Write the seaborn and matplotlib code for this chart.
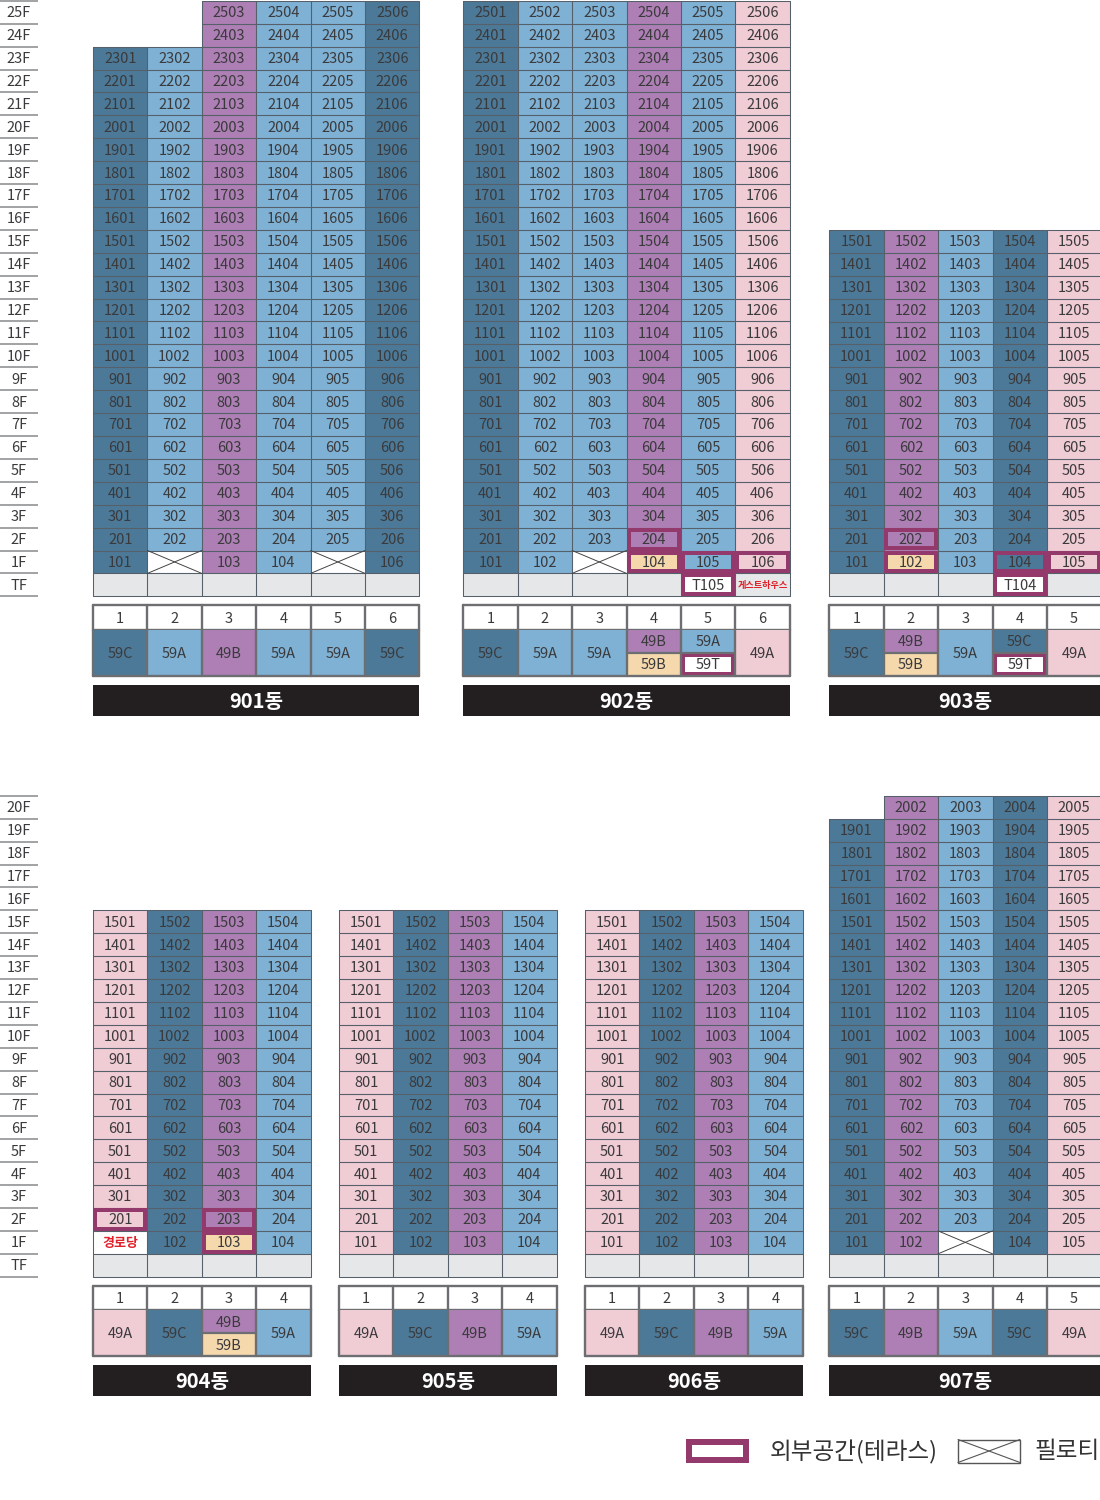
import numpy as np
import matplotlib
matplotlib.use("Agg")
import matplotlib.pyplot as plt
from matplotlib.colors import ListedColormap
from matplotlib.patches import Rectangle
import seaborn as sns

sns.set_theme(style="white")
plt.rcParams['font.family'] = ['Liberation Sans Narrow', 'Noto Sans CJK KR', 'DejaVu Sans']

W, H = 1100, 1500
ROW_H = 22.9
COL_W = 54.4

# unit types by line, floors of the top of each line
TYPE_NAMES = ["59C", "59A", "49B", "49A", "59B", "59T", "TF", "PIL"]
TYPE_COLORS = ["#4c7997", "#7fb1d4", "#ad7fb4", "#f0ccd5", "#f5d9ad", "#ffffff", "#e6e7e8", "#ffffff"]
TERRACE = "#93396b"
GRID = "#55606a"
BORDER = "#6d6e71"
TEXT = "#3a3a3c"
RED = "#e0202a"

lines_901 = ["59C", "59A", "49B", "59A", "59A", "59C"]
tops_901 = [23, 23, 25, 25, 25, 25]
lines_902 = ["59C", "59A", "59A", "49B", "59A", "49A"]
tops_902 = [25, 25, 25, 25, 25, 25]
lines_903 = ["59C", "49B", "59A", "59C", "49A"]
tops_903 = [15, 15, 15, 15, 15]
lines_904 = ["49A", "59C", "49B", "59A"]
tops_904 = [15, 15, 15, 15]
lines_905 = ["49A", "59C", "49B", "59A"]
tops_905 = [15, 15, 15, 15]
lines_906 = ["49A", "59C", "49B", "59A"]
tops_906 = [15, 15, 15, 15]
lines_907 = ["59C", "49B", "59A", "59C", "49A"]
tops_907 = [19, 20, 20, 20, 20]

piloti_901 = ["102", "105"]
piloti_902 = ["103"]
piloti_907 = ["103"]
yellow_902 = ["104"]
yellow_903 = ["102"]
yellow_904 = ["103"]
terrace_902 = ["204", "104", "105", "106", "T105"]
terrace_903 = ["202", "102", "104", "105", "T104"]
terrace_904 = ["201", "203", "103"]
tf_units_902 = {4: "T105"}
tf_units_903 = {3: "T104"}
red_902 = {"TF5": "게스트하우스"}
red_904 = {"1F0": "경로당"}
lower_902 = {3: "59B", 4: "59T"}
lower_903 = {1: "59B", 3: "59T"}
lower_904 = {2: "59B"}


def px_axes(fig, x, y, w, h):
    return fig.add_axes([x / W, 1 - (y + h) / H, w / W, h / H])


def nudge_texts(ax, dy):
    # the labels sit a touch low in the cells
    for t in ax.texts:
        t.set_y(t.get_position()[1] + dy)


def heat(ax, matrix, annot=None, lw=1.0, linecolor=GRID, kws=None):
    cmap = ListedColormap(TYPE_COLORS)
    sns.heatmap(matrix, ax=ax, cmap=cmap, vmin=-0.5, vmax=len(TYPE_NAMES) - 0.5, cbar=False,
                annot=annot if annot is not None else False, fmt="",
                annot_kws=kws if kws else {"size": 10.5, "color": TEXT},
                linewidths=lw, linecolor=linecolor, xticklabels=False, yticklabels=False)
    ax.collections[0].set_clip_on(False)
    ax.set_xlabel("")
    ax.set_ylabel("")
    ax.axis("off")
    nudge_texts(ax, 0.04)


def terrace_box(ax, col, row, cw, rh, h_rows=1.0, border=4.0):
    # inset frame so the outer edge stays on the cell edge
    ax.add_patch(Rectangle((col + border / 2 / cw, row + border / 2 / rh),
                           1 - border / cw, h_rows - border / rh, fill=False,
                           edgecolor=TERRACE, linewidth=border * 72 / 100, zorder=2, clip_on=False))


def draw_building(fig, name, x, bottom, top_floor, lines, tops, piloti=(), yellow=(), terrace=(),
                  tf_units=None, red=None, lower=None):
    tf_units = tf_units or {}
    red = red or {}
    lower = lower or {}
    n = len(lines)
    floors = list(range(top_floor, 0, -1)) + [0]
    matrix = np.full((len(floors), n), np.nan)
    labels = np.full((len(floors), n), "", dtype=object)
    for r, fl in enumerate(floors):
        for c, kind in enumerate(lines):
            if fl == 0:
                matrix[r, c] = TYPE_NAMES.index("TF")
                if c in tf_units:
                    labels[r, c] = tf_units[c]
                    matrix[r, c] = TYPE_NAMES.index("59T")
                continue
            if fl > tops[c]:
                continue
            unit = f"{fl}{c + 1:02d}"
            labels[r, c] = unit
            matrix[r, c] = TYPE_NAMES.index(kind)
            if unit in yellow:
                matrix[r, c] = TYPE_NAMES.index("59B")
            if unit in piloti:
                matrix[r, c] = TYPE_NAMES.index("PIL")
                labels[r, c] = ""
            if fl == 1 and f"1F{c}" in red:
                matrix[r, c] = TYPE_NAMES.index("59T")
                labels[r, c] = ""

    h = len(floors) * ROW_H
    ax = px_axes(fig, x, bottom - h, n * COL_W, h)
    heat(ax, matrix, labels, lw=0)
    # outlines only around cells that exist
    for r, c in np.argwhere(~np.isnan(matrix)):
        ax.plot([c, c + 1, c + 1, c, c], [r, r, r + 1, r + 1, r], color=GRID, lw=0.75,
                zorder=1.5, clip_on=False)
    for r, c in np.argwhere(~np.isnan(matrix)):
        if labels[r, c] in terrace:
            terrace_box(ax, c, r, COL_W, ROW_H)
        if floors[r] == 1 and f"1{c + 1:02d}" in piloti:
            ax.plot([c, c + 1], [r, r + 1], color="#444444", lw=0.7, zorder=2)
            ax.plot([c, c + 1], [r + 1, r], color="#444444", lw=0.7, zorder=2)
    for key, txt in red.items():
        c = int(key[-1])
        r = len(floors) - 1 if key.startswith("TF") else len(floors) - 2
        ax.text(c + 0.5, r + 0.52, txt, ha="center", va="center", color=RED, fontweight="bold",
                fontsize=6.6 if len(txt) > 3 else 9.4, family=['Noto Sans CJK KR'])

    # line numbers
    y0 = bottom + 9
    ax_num = px_axes(fig, x, y0, n * COL_W, 24.7)
    heat(ax_num, np.full((1, n), TYPE_NAMES.index("59T")),
         np.array([[str(i + 1) for i in range(n)]], dtype=object), lw=0)
    for c in range(n + 1):
        ax_num.plot([c, c], [0, 1], color=BORDER, lw=1.7, zorder=3, clip_on=False)
    ax_num.plot([0, n], [0, 0], color=BORDER, lw=1.7, zorder=3, clip_on=False)
    ax_num.plot([0, n], [1, 1], color=BORDER, lw=1.7, zorder=3, clip_on=False)

    # unit types, split cells have the lower-floor type underneath
    ax_type = px_axes(fig, x, y0 + 24.7, n * COL_W, 45.7)
    upper = [TYPE_NAMES.index(k) for k in lines]
    below = [TYPE_NAMES.index(lower.get(c, k)) for c, k in enumerate(lines)]
    heat(ax_type, np.array([upper, below], dtype=float), lw=0)
    cell_h = 45.7 / 2
    for c, kind in enumerate(lines):
        if c in lower:
            ax_type.text(c + 0.5, 0.54, kind, ha="center", va="center", size=10.5, color=TEXT, zorder=4)
            ax_type.text(c + 0.5, 1.54, lower[c], ha="center", va="center", size=10.5, color=TEXT, zorder=4)
            ax_type.plot([c, c + 1], [1, 1], color=BORDER, lw=1.6, zorder=3)
            if lower[c] == "59T":
                terrace_box(ax_type, c, 1, COL_W, cell_h, border=4.0)
        else:
            ax_type.text(c + 0.5, 1.03, kind, ha="center", va="center", size=10.5, color=TEXT, zorder=4)
    for c in range(n + 1):
        ax_type.plot([c, c], [0, 2], color=BORDER, lw=1.7, zorder=3, clip_on=False)
    ax_type.plot([0, n], [2, 2], color=BORDER, lw=1.7, zorder=3, clip_on=False)

    # black name bar
    ax_name = px_axes(fig, x, bottom + 88.7, n * COL_W, 30.7)
    sns.heatmap(np.zeros((1, 1)), ax=ax_name, cmap=ListedColormap(["#231f20"]), cbar=False,
                annot=np.array([[name]], dtype=object), fmt="", xticklabels=False, yticklabels=False,
                annot_kws={"size": 14.5, "color": "white", "fontweight": "bold"})
    ax_name.axis("off")
    nudge_texts(ax_name, 0.03)


def draw_floor_labels(fig, bottom, top_floor):
    labels = [f"{i}F" for i in range(top_floor, 0, -1)] + ["TF"]
    h = len(labels) * ROW_H
    ax = px_axes(fig, 0, bottom - h, 38, h)
    heat(ax, np.full((len(labels), 1), TYPE_NAMES.index("59T")),
         np.array(labels, dtype=object).reshape(-1, 1), lw=0)
    ax.hlines(range(len(labels) + 1), 0, 1, color="#9a9b9d", lw=1.3, clip_on=False)


fig = plt.figure(figsize=(W / 100, H / 100), dpi=100, facecolor="white")

TOP_BOTTOM = 596.3
LOW_BOTTOM = 1276.7

draw_floor_labels(fig, TOP_BOTTOM, 25)
draw_floor_labels(fig, LOW_BOTTOM, 20)

draw_building(fig, "901동", 93, TOP_BOTTOM, 25, lines_901, tops_901, piloti=piloti_901)
draw_building(fig, "902동", 463.3, TOP_BOTTOM, 25, lines_902, tops_902, piloti=piloti_902,
              yellow=yellow_902, terrace=terrace_902, tf_units=tf_units_902, red=red_902, lower=lower_902)
draw_building(fig, "903동", 829.3, TOP_BOTTOM, 15, lines_903, tops_903, yellow=yellow_903,
              terrace=terrace_903, tf_units=tf_units_903, lower=lower_903)
draw_building(fig, "904동", 93, LOW_BOTTOM, 15, lines_904, tops_904, yellow=yellow_904,
              terrace=terrace_904, red=red_904, lower=lower_904)
draw_building(fig, "905동", 339, LOW_BOTTOM, 15, lines_905, tops_905)
draw_building(fig, "906동", 585, LOW_BOTTOM, 15, lines_906, tops_906)
draw_building(fig, "907동", 829.3, LOW_BOTTOM, 20, lines_907, tops_907, piloti=piloti_907)

# legend at bottom right
leg = fig.add_axes([0, 0, 1, 1], facecolor="none")
leg.set_xlim(0, W)
leg.set_ylim(H, 0)
leg.axis("off")
leg.add_patch(Rectangle((689, 1441.5), 57, 18, fill=False, edgecolor=TERRACE, linewidth=6 * 72 / 100))
leg.text(770, 1452, "외부공간(테라스)", ha="left", va="center", size=17, color="#333333",
         family=['Noto Sans CJK KR'], fontweight="light")
leg.add_patch(Rectangle((958, 1439.5), 62, 23, fill=False, edgecolor="#555555", linewidth=1))
leg.plot([958, 1020], [1439.5, 1462.5], color="#555555", lw=0.8)
leg.plot([958, 1020], [1462.5, 1439.5], color="#555555", lw=0.8)
leg.text(1034, 1452, "필로티", ha="left", va="center", size=17, color="#333333",
         family=['Noto Sans CJK KR'], fontweight="light")

fig.savefig("out.png", dpi=100, facecolor="white")
